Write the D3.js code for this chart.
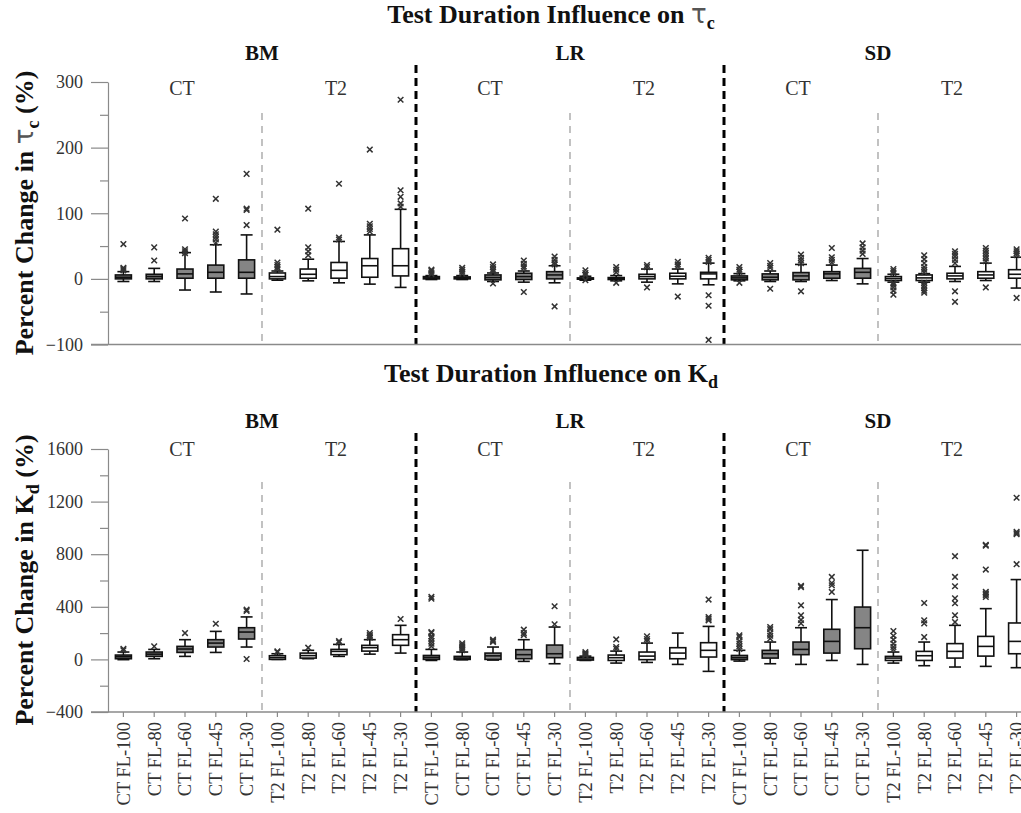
<!DOCTYPE html>
<html>
<head>
<meta charset="utf-8">
<script src="https://cdn.jsdelivr.net/npm/d3@7"></script>
<style>
  body { margin: 0; background: #fff; }
  svg { display: block; }
  text { font-family: "Liberation Serif", "Times New Roman", serif; }
</style>
</head>
<body>
<svg id="chart" width="1021" height="813"></svg>
<script>
// ---- categories ----
const soils = ["BM", "LR", "SD"];
const methods = ["CT", "T2"];
const durations = ["FL-100", "FL-80", "FL-60", "FL-45", "FL-30"];
const tickLabels = [
  "CT FL-100", "CT FL-80", "CT FL-60", "CT FL-45", "CT FL-30",
  "T2 FL-100", "T2 FL-80", "T2 FL-60", "T2 FL-45", "T2 FL-30",
  "CT FL-100", "CT FL-80", "CT FL-60", "CT FL-45", "CT FL-30",
  "T2 FL-100", "T2 FL-80", "T2 FL-60", "T2 FL-45", "T2 FL-30",
  "CT FL-100", "CT FL-80", "CT FL-60", "CT FL-45", "CT FL-30",
  "T2 FL-100", "T2 FL-80", "T2 FL-60", "T2 FL-45", "T2 FL-30"
];

// ---- percent change in tau_c: box statistics ----
const tauLow  = [-4, -4, -17, -20, -23,  -2, -3, -6, -8, -13,  -1, -1, -4, -5, -6,  -2, -3, -5, -7.6, -9,  -3, -4, -4, -2.5, -7.6,  -5, -5, -4, -2.5, -14];
const tauQ1   = [0, 0, 1, 1, 1,  0, 1, 1, 2.5, 4.5,  0, 0, -1.5, -1, 0,  -0.5, -1, 0, 0, 0,  -1.5, -1.5, -1.5, 1, 1,  -2.5, -2.5, 0, 1, 1];
const tauMed  = [2.5, 3.5, 7.6, 10, 10,  3.5, 7, 13, 20, 20,  1.5, 1.5, 2, 3.5, 6,  0.5, 0.5, 3.5, 4, 7.6,  1.5, 2.5, 4.5, 7.6, 10,  0.5, 1.5, 4.5, 6, 7];
const tauQ3   = [6, 7, 15, 21, 29,  9, 15, 25, 31, 46,  3.5, 3, 6, 8.6, 11,  1.5, 2, 7, 8.6, 10,  4.5, 7.6, 9.6, 11, 16,  3.5, 6, 8.6, 11, 14];
const tauHigh = [11, 16, 40, 52, 67,  12, 30, 57, 67, 106,  5, 5, 9, 12, 20,  4, 5, 15, 15, 24,  8, 12, 22, 21, 31,  7, 8, 19, 24, 33];
const tauOut = [
  [13, 15, 17, 53], [28, 48], [39, 42, 45, 92], [55, 60, 64, 68, 72, 122], [82, 105, 107, 160],
  [15, 18, 21, 25, 75], [36, 42, 48, 107], [60, 63, 145], [72, 76, 80, 84, 197], [110, 115, 125, 135, 273],
  [7, 9, 12, 14], [8, 11, 14, 17], [11, 14, 18, 22, -7], [16, 19, 23, 28, -20], [22, 25, 29, 34, -42],
  [6, 9, 13, -2], [10, 14, 18, -6], [18, 21, -13], [19, 22, 26, -27], [26, 29, 32, -25, -41, -93],
  [11, 14, 18, -6], [17, 20, 24, -15], [24, 28, 32, 37, -19], [25, 29, 33, 47], [38, 43, 48, 54],
  [9, 12, 15, -6, -9, -13, -18, -24], [10, 14, 18, 24, 30, 36, -6, -10, -14, -18, -21],
  [24, 29, 34, 38, 42, -19, -35], [27, 31, 35, 39, 43, 47, -13], [36, 39, 42, 45, -29]
];

// ---- percent change in K_d: box statistics ----
const kdLow  = [-2, 5, 23, 53, 94,  0, 5, 23, 40, 48,  -8, -3, -5, -15, -33,  -8, -28, -23, -38, -91,  -13, -33, -38, -8, -38,  -28, -48, -58, -53, -63];
const kdQ1   = [5, 23, 53, 94, 155,  0, 10, 36, 63, 107,  0, 0, 0, 5, 13,  -5, -8, -2, 5, 18,  -2, 10, 36, 48, 81,  -8, -8, 10, 25, 43];
const kdMed  = [20, 40, 79, 124, 208,  13, 29, 61, 89, 150,  15, 10, 27, 36, 43,  3, 13, 25, 48, 69,  13, 43, 76, 137, 241,  10, 28, 61, 99, 137];
const kdQ3   = [33, 56, 99, 150, 241,  28, 48, 76, 107, 188,  30, 23, 48, 74, 109,  15, 33, 56, 89, 127,  30, 69, 132, 229, 398,  23, 61, 120, 175, 277];
const kdHigh = [56, 76, 150, 213, 323,  43, 69, 114, 150, 259,  76, 56, 94, 150, 246,  25, 63, 124, 200, 251,  69, 132, 241, 455, 830,  56, 132, 259, 386, 607];
const kdOut = [
  [70, 80], [99], [200], [271], [3, 368, 378],
  [55, 61], [89], [130, 140], [165, 175, 185, 200], [307],
  [100, 120, 140, 160, 175, 200, 208, 462, 475], [70, 82, 95, 108, 122], [132, 140, 150], [185, 200, 226], [267, 404],
  [30, 38, 45, 55], [80, 94, 152], [140, 155, 175], [], [297, 310, 322, 455],
  [80, 100, 120, 140, 170, 183], [158, 180, 200, 230, 246], [274, 300, 335, 411, 550, 560], [513, 564, 581, 627], [],
  [75, 95, 120, 150, 180, 216], [170, 274, 297, 429], [284, 335, 427, 465, 556, 627, 785],
  [475, 490, 500, 513, 683, 865, 872], [724, 952, 960, 970, 1229]
];

// ---- axis ticks ----
const tauMajorTicks = [-100, 0, 100, 200, 300];
const tauMinorTicks = [-50, 50, 150, 250];
const kdMajorTicks = [-400, 0, 400, 800, 1200, 1600];
const kdMinorTicks = [-200, 200, 600, 1000, 1400];

const serif = "'Liberation Serif','Times New Roman',serif";

const categories = [];
soils.forEach(s => methods.forEach(m => durations.forEach(d => categories.push(`${s} ${m} ${d}`))));
const methodOf = categories.map(c => c.split(" ")[1]);

const svg = d3.select("#chart");
svg.append("rect").attr("width", 1021).attr("height", 813).attr("fill", "#fff");

const x = d3.scaleBand().domain(categories).range([108, 1032]);
const boxW = 16, capW = 12;
const axisColor = "#8a8a8a";

function drawPanel(cfg) {
  const { y, major, minor, low, q1, med, q3, high, out, thinTop, thickTop } = cfg;
  const base = y.range()[0];
  const g = svg.append("g");

  // group separators
  [5, 15, 25].forEach(i => {
    g.append("line")
      .attr("x1", x(categories[i])).attr("x2", x(categories[i]))
      .attr("y1", thinTop).attr("y2", base)
      .attr("stroke", "#999").attr("stroke-width", 1.2)
      .attr("stroke-dasharray", "7,6");
  });
  [10, 20].forEach(i => {
    g.append("line")
      .attr("x1", x(categories[i])).attr("x2", x(categories[i]))
      .attr("y1", thickTop).attr("y2", base)
      .attr("stroke", "#000").attr("stroke-width", 3)
      .attr("stroke-dasharray", "8,5");
  });

  // y axis (major + minor ticks)
  const ya = g.append("g").attr("transform", "translate(108,0)")
    .call(d3.axisLeft(y).tickValues(major).tickSize(17).tickPadding(8)
      .tickSizeOuter(0).tickFormat(d3.format("d")));
  ya.attr("font-family", null);
  ya.select(".domain").attr("stroke", axisColor).attr("stroke-width", 1.2);
  ya.selectAll(".tick line").attr("stroke", axisColor).attr("stroke-width", 1.2);
  ya.selectAll(".tick text")
    .style("font-family", serif)
    .style("font-size", "18px").attr("fill", "#333");
  const ym = g.append("g").attr("transform", "translate(108,0)")
    .call(d3.axisLeft(y).tickValues(minor).tickSize(8).tickFormat("").tickSizeOuter(0));
  ym.select(".domain").remove();
  ym.selectAll(".tick line").attr("stroke", axisColor).attr("stroke-width", 1.2);

  // bottom baseline
  g.append("line").attr("x1", 91).attr("x2", 1032).attr("y1", base).attr("y2", base)
    .attr("stroke", axisColor).attr("stroke-width", 1.4);

  // boxes
  const boxes = g.selectAll("g.box").data(categories).join("g").attr("class", "box")
    .attr("transform", d => `translate(${x(d) + x.bandwidth() / 2},0)`);

  boxes.each(function (d, i) {
    const b = d3.select(this);
    const stroke = "#111", sw = 1.6;
    b.append("line").attr("y1", y(high[i])).attr("y2", y(q3[i])).attr("stroke", stroke).attr("stroke-width", sw);
    b.append("line").attr("y1", y(q1[i])).attr("y2", y(low[i])).attr("stroke", stroke).attr("stroke-width", sw);
    b.append("line").attr("x1", -capW / 2).attr("x2", capW / 2).attr("y1", y(high[i])).attr("y2", y(high[i]))
      .attr("stroke", stroke).attr("stroke-width", sw);
    b.append("line").attr("x1", -capW / 2).attr("x2", capW / 2).attr("y1", y(low[i])).attr("y2", y(low[i]))
      .attr("stroke", stroke).attr("stroke-width", sw);
    b.append("rect").attr("x", -boxW / 2).attr("width", boxW)
      .attr("y", y(q3[i])).attr("height", Math.max(y(q1[i]) - y(q3[i]), 1))
      .attr("fill", methodOf[i] === "CT" ? "#858585" : "#fff")
      .attr("stroke", stroke).attr("stroke-width", sw);
    b.append("line").attr("x1", -boxW / 2).attr("x2", boxW / 2).attr("y1", y(med[i])).attr("y2", y(med[i]))
      .attr("stroke", stroke).attr("stroke-width", sw);
    b.selectAll("path.out").data(out[i]).join("path").attr("class", "out")
      .attr("transform", v => `translate(0,${y(v)})`)
      .attr("d", "M-2.8,-2.8L2.8,2.8M-2.8,2.8L2.8,-2.8")
      .attr("stroke", "#333").attr("stroke-width", 1.5).attr("fill", "none");
  });
  return g;
}

// ---- top panel: tau_c ----
const yTau = d3.scaleLinear().domain([-100, 300]).range([344.5, 82]);
drawPanel({ y: yTau, major: tauMajorTicks, minor: tauMinorTicks,
  low: tauLow, q1: tauQ1, med: tauMed, q3: tauQ3, high: tauHigh, out: tauOut,
  thinTop: 113, thickTop: 65 });

// ---- bottom panel: K_d ----
const yKd = d3.scaleLinear().domain([-400, 1600]).range([712, 449]);
drawPanel({ y: yKd, major: kdMajorTicks, minor: kdMinorTicks,
  low: kdLow, q1: kdQ1, med: kdMed, q3: kdQ3, high: kdHigh, out: kdOut,
  thinTop: 482, thickTop: 433 });

// category axis under the bottom panel
const xa = svg.append("g").attr("transform", "translate(0,712)")
  .call(d3.axisBottom(x).tickSize(5).tickSizeOuter(0).tickFormat((d, i) => tickLabels[i]));
xa.attr("font-family", null);
xa.select(".domain").remove();
xa.selectAll(".tick line").attr("stroke", axisColor).attr("stroke-width", 1.2);
xa.selectAll(".tick text")
  .style("font-family", serif)
  .style("font-size", "18.5px").attr("fill", "#333")
  .attr("transform", "rotate(-90)")
  .attr("x", -10).attr("y", 0).attr("dy", "0.35em")
  .style("text-anchor", "end");

// ---- soil and method labels ----
const groupCenter = (s, m) => {
  const a = x(`${s} ${m} FL-100`), b = x(`${s} ${m} FL-30`) + x.bandwidth();
  return (a + b) / 2;
};
[[60, 95], [428, 456]].forEach(([soilY, methY]) => {
  soils.forEach(s => {
    svg.append("text").attr("x", x(`${s} T2 FL-100`)).attr("y", soilY)
      .attr("text-anchor", "middle").attr("font-weight", "bold").attr("font-size", 21)
      .attr("fill", "#111").text(s);
    methods.forEach(m => {
      svg.append("text").attr("x", groupCenter(s, m) - 3).attr("y", methY)
        .attr("text-anchor", "middle").attr("font-size", 20).attr("fill", "#333").text(m);
    });
  });
});

// ---- titles ----
function richLabel(sel, parts) {
  parts.forEach(p => {
    const t = sel.append("tspan").text(p.t);
    if (p.tau) t.style("font-family", "'DejaVu Sans',sans-serif").attr("font-weight", "normal").attr("fill", "#555");
    if (p.sub) t.attr("font-size", p.sub).attr("dy", p.dy);
    if (p.back) t.attr("dy", p.back).attr("font-size", p.size);
  });
}
const t1 = svg.append("text").attr("x", 551).attr("y", 23).attr("text-anchor", "middle")
  .attr("font-weight", "bold").attr("font-size", 26).attr("fill", "#111");
richLabel(t1, [{ t: "Test Duration Influence on " }, { t: "τ", tau: true }, { t: "c", sub: 18, dy: 6 }]);

const t2 = svg.append("text").attr("x", 551).attr("y", 382).attr("text-anchor", "middle")
  .attr("font-weight", "bold").attr("font-size", 26).attr("fill", "#111");
richLabel(t2, [{ t: "Test Duration Influence on K" }, { t: "d", sub: 18, dy: 6 }]);

const yl1 = svg.append("text").attr("transform", "translate(33,213) rotate(-90)")
  .attr("text-anchor", "middle").attr("font-weight", "bold").attr("font-size", 26).attr("fill", "#111");
richLabel(yl1, [{ t: "Percent Change in " }, { t: "τ", tau: true }, { t: "c", sub: 18, dy: 6 }, { t: " (%)", back: -6, size: 26 }]);

const yl2 = svg.append("text").attr("transform", "translate(33,580) rotate(-90)")
  .attr("text-anchor", "middle").attr("font-weight", "bold").attr("font-size", 26).attr("fill", "#111");
richLabel(yl2, [{ t: "Percent Change in K" }, { t: "d", sub: 18, dy: 6 }, { t: " (%)", back: -6, size: 26 }]);
</script>
</body>
</html>
